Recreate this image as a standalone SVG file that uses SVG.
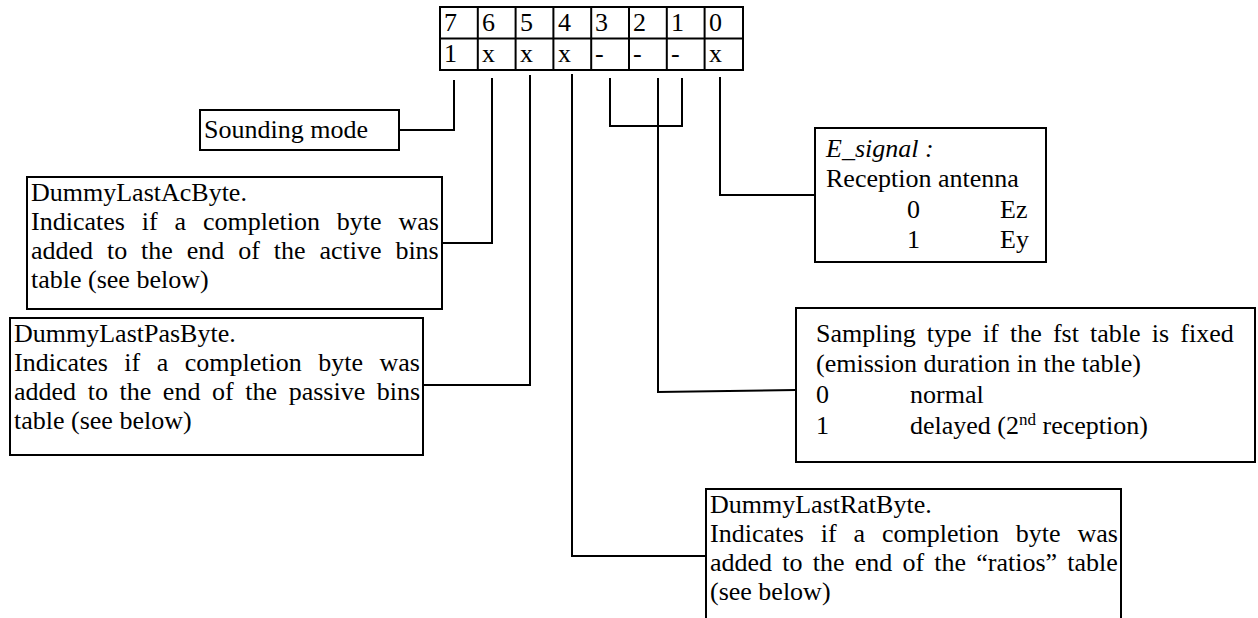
<svg xmlns="http://www.w3.org/2000/svg" width="1258" height="618" viewBox="0 0 1258 618">
<style>
  text { font-family: "Liberation Serif", "Times New Roman", serif; font-size: 26px; fill: #000; }
  .box { fill: #fff; stroke: #000; stroke-width: 2; }
  .ln { fill: none; stroke: #000; stroke-width: 2; }
  .it { font-style: italic; }
</style>
<rect width="1258" height="618" fill="#fff"/>

<g id="byte-table">
  <rect class="box" x="440" y="7" width="303" height="63"/>
  <path class="ln" d="M440 38.5H743M477.8 7V70M515.6 7V70M553.4 7V70M591.2 7V70M629 7V70M666.8 7V70M704.6 7V70"/>
  <text x="444" y="31">7</text><text x="482" y="31">6</text><text x="520" y="31">5</text><text x="558" y="31">4</text>
  <text x="595" y="31">3</text><text x="633" y="31">2</text><text x="671" y="31">1</text><text x="709" y="31">0</text>
  <text x="444" y="62">1</text><text x="482" y="62">x</text><text x="520" y="62">x</text><text x="558" y="62">x</text>
  <text x="595" y="62">-</text><text x="633" y="62">-</text><text x="671" y="62">-</text><text x="709" y="62">x</text>
</g>

<g id="connectors">
  <path class="ln" d="M454 80V130H399"/>
  <path class="ln" d="M492 78V243H442"/>
  <path class="ln" d="M530 75V385H423"/>
  <path class="ln" d="M572 74V556H706"/>
  <path class="ln" d="M610 78V126H682V78"/>
  <path class="ln" d="M658 78V392L796 390"/>
  <path class="ln" d="M720 77V195H815"/>
</g>

<g id="sounding-mode">
  <rect class="box" x="200" y="110" width="199" height="40"/>
  <text x="204" y="138">Sounding mode</text>
</g>

<g id="dummy-last-ac">
  <rect class="box" x="27" y="177" width="415" height="132"/>
  <text x="31" y="200.5">DummyLastAcByte.</text>
  <text x="31" y="229.7" word-spacing="10.4">Indicates if a completion byte was</text>
  <text x="31" y="258.9" word-spacing="7.4">added to the end of the active bins</text>
  <text x="31" y="288.1">table (see below)</text>
</g>

<g id="dummy-last-pas">
  <rect class="box" x="10" y="318" width="413" height="137"/>
  <text x="14" y="341.5">DummyLastPasByte.</text>
  <text x="14" y="370.7" word-spacing="10">Indicates if a completion byte was</text>
  <text x="14" y="399.9" word-spacing="5.1">added to the end of the passive bins</text>
  <text x="14" y="429.1">table (see below)</text>
</g>

<g id="e-signal">
  <rect class="box" x="815" y="128" width="231" height="134"/>
  <text x="826" y="157" class="it">E_signal :</text>
  <text x="826" y="187">Reception antenna</text>
  <text x="907" y="218">0</text><text x="1000" y="218">Ez</text>
  <text x="907" y="248">1</text><text x="1000" y="248">Ey</text>
</g>

<g id="sampling-type">
  <rect class="box" x="796" y="308" width="459" height="154"/>
  <text x="816" y="342" word-spacing="4.7">Sampling type if the fst table is fixed</text>
  <text x="816" y="372">(emission duration in the table)</text>
  <text x="816" y="403">0</text><text x="910" y="403">normal</text>
  <text x="816" y="434">1</text><text x="910" y="434">delayed (2<tspan font-size="17" baseline-shift="super">nd</tspan> reception)</text>
</g>

<g id="dummy-last-rat">
  <rect class="box" x="706" y="489" width="415" height="160"/>
  <text x="710" y="512.5">DummyLastRatByte.</text>
  <text x="710" y="541.7" word-spacing="10.4">Indicates if a completion byte was</text>
  <text x="710" y="570.9" word-spacing="3.7">added to the end of the “ratios” table</text>
  <text x="710" y="600.1">(see below)</text>
</g>
</svg>
